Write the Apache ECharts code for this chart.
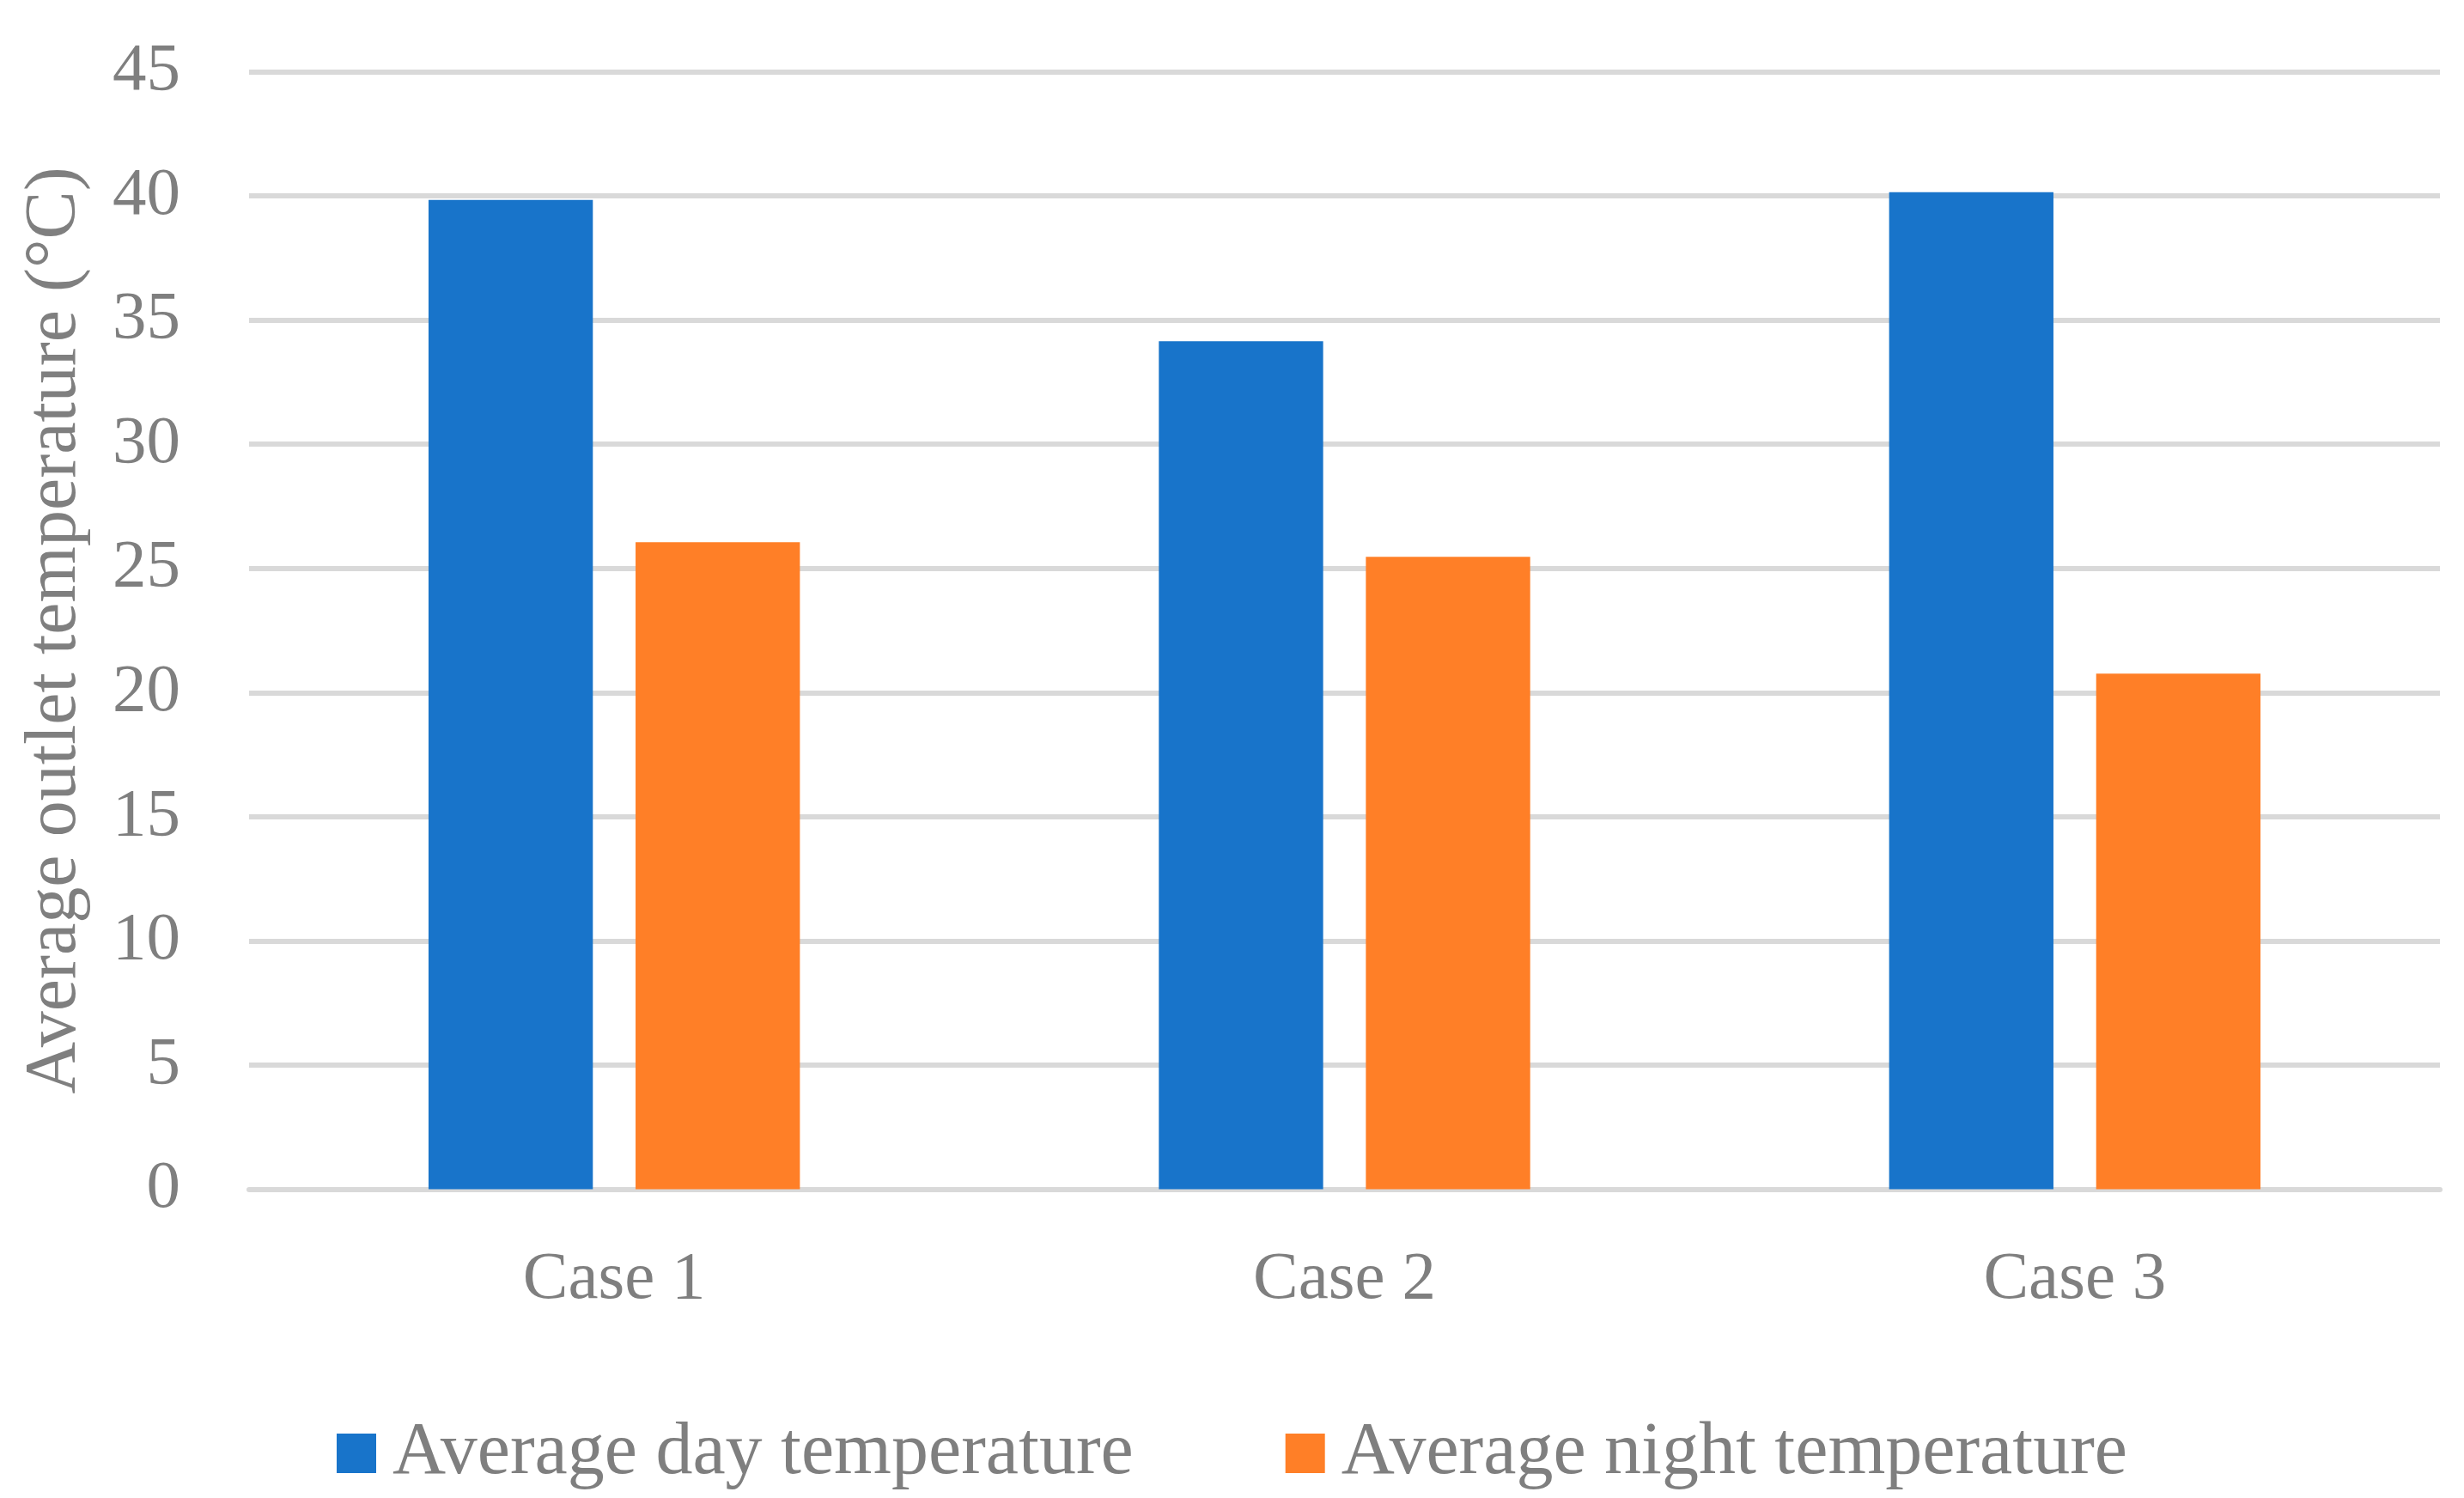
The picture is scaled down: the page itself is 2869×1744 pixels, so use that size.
<!DOCTYPE html>
<html>
<head>
<meta charset="utf-8">
<script src="https://cdn.jsdelivr.net/npm/echarts@6/dist/echarts.min.js"></script>
<style>
html,body{margin:0;padding:0;background:#fff;}
#chart{width:2869px;height:1744px;}
</style>
</head>
<body>
<div id="chart"></div>
<script>
var categories = ['Case 1', 'Case 2', 'Case 3'];
var dayTemps = [39.84, 34.15, 40.15];
var nightTemps = [26.05, 25.47, 20.76];
var seriesNames = ['Average day temperature', 'Average night temperature'];
var yAxisTitle = 'Average outlet temperature (°C)';

var FONT = '"Liberation Serif", "Times New Roman", serif';
var TEXT = '#7f7f7f';
var chart = echarts.init(document.getElementById('chart'), null, {renderer: 'canvas'});
chart.setOption({
  animation: false,
  backgroundColor: '#ffffff',
  color: ['#1874ca', '#ff7f27'],
  grid: {left: 290, right: 28, top: 83.5, bottom: 359.5, containLabel: false},
  legend: {
    data: seriesNames,
    left: 'center',
    top: 1644,
    icon: 'rect',
    itemWidth: 46,
    itemHeight: 46,
    itemGap: 177,
    textStyle: {fontFamily: FONT, fontSize: 86, color: TEXT, padding: [0, 0, 0, 14], lineHeight: 46}
  },
  xAxis: {
    type: 'category',
    data: categories,
    axisLine: {show: true, lineStyle: {color: '#d9d9d9', width: 6}},
    axisTick: {show: false},
    splitLine: {show: false},
    axisLabel: {fontFamily: FONT, fontSize: 79, color: TEXT, margin: 66, lineHeight: 79}
  },
  yAxis: {
    type: 'value',
    min: 0,
    max: 45,
    interval: 5,
    name: yAxisTitle,
    nameLocation: 'middle',
    nameGap: 183,
    nameTextStyle: {fontFamily: FONT, fontSize: 84, color: TEXT},
    axisLine: {show: false},
    axisTick: {show: false},
    splitLine: {show: true, lineStyle: {color: '#d9d9d9', width: 6}},
    axisLabel: {fontFamily: FONT, fontSize: 79, color: TEXT, margin: 80}
  },
  series: [
    {name: seriesNames[0], type: 'bar', data: dayTemps, barWidth: '22.5%', barGap: '26%'},
    {name: seriesNames[1], type: 'bar', data: nightTemps, barWidth: '22.5%', barGap: '26%'}
  ]
});
</script>
</body>
</html>
